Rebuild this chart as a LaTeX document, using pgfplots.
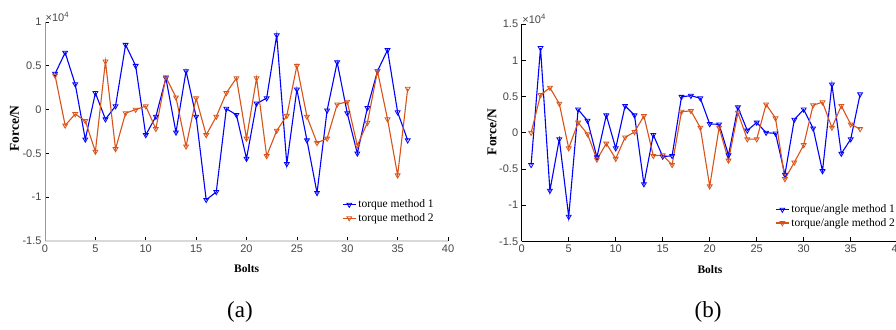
\documentclass[border=0pt]{standalone}
\usepackage{pgfplots}
\pgfplotsset{compat=1.18}
\usepackage{fontspec}
\setmainfont{Liberation Serif}
\setsansfont{Liberation Sans}
\definecolor{mblue}{RGB}{0,0,255}
\definecolor{morange}{RGB}{217,83,25}
\definecolor{ticktext}{RGB}{70,70,70}
\pgfplotsset{
  common/.style={
    scale only axis,
    anchor=south west,
    xmin=0, xmax=40,
    axis x line*=bottom, axis y line*=left,
    tick align=inside,
    major tick length=4pt,
    xtick={0,5,...,40},
    xticklabels={0,5,10,15,20,25,30,35,40},
    scaled y ticks=false,
    tick style={black, line width=0.6pt},
    tick label style={font=\sffamily\fontsize{11}{12}\selectfont, text=ticktext},
    every axis y label/.style={rotate=90, anchor=center, font=\bfseries\fontsize{13.5}{15}\selectfont},
    every axis x label/.style={anchor=center, font=\bfseries\fontsize{11.5}{13}\selectfont},
    xlabel={Bolts}, ylabel={Force/N},
    legend style={draw=none, fill=none, anchor=north west, font=\fontsize{11.5}{14}\selectfont, legend cell align=left, inner sep=0pt, row sep=0pt},
    legend image code/.code={\draw[mark repeat=2, mark phase=2, #1] plot coordinates {(0pt,0pt) (6.5pt,0pt) (13pt,0pt)};},
    clip=false,
  },
  s1/.style={color=mblue, line width=1.1pt, mark=triangle, mark size=2.8pt, mark options={rotate=180, line width=0.8pt}},
  s2/.style={color=morange, line width=1.1pt, mark=triangle, mark size=2.8pt, mark options={rotate=180, line width=0.8pt}},
}
\begin{document}
\begin{tikzpicture}[x=1pt,y=1pt]
\useasboundingbox (0,0) rectangle (896,329);
% ---------------- (a) ----------------
\begin{axis}[common,
  at={(45pt,88pt)}, width=403pt, height=219pt,
  ymin=-15000, ymax=10000,
  ytick={-15000,-10000,-5000,0,5000,10000},
  yticklabels={-1.5,-1,-0.5,0,0.5,1},
  x axis line style={draw=black!15, line width=2pt},
  y axis line style={draw=black!40, line width=0.7pt},
  every axis y label/.append style={at={(axis description cs:-0.0757,0.514)}},
  every axis x label/.append style={at={(axis description cs:0.5005,-0.128)}},
  legend style={at={(axis description cs:0.737,0.198)}},
]
\addplot[s1] coordinates {
(1,4100) (2,6500) (3,2900) (4,-3400) (5,1900) (6,-1100) (7,400) (8,7400) (9,5000) (10,-2900)
(11,-800) (12,3600) (13,-2600) (14,4400) (15,-800) (16,-10300) (17,-9400) (18,100) (19,-600) (20,-5600)
(21,700) (22,1300) (23,8500) (24,-6200) (25,2300) (26,-3500) (27,-9500) (28,-100) (29,5400) (30,-400)
(31,-5000) (32,200) (33,4400) (34,6800) (35,-300) (36,-3500)};
\addlegendentry{torque method 1}
\addplot[s2] coordinates {
(1,3900) (2,-1800) (3,-500) (4,-1300) (5,-4800) (6,5500) (7,-4500) (8,-400) (9,0) (10,400)
(11,-2200) (12,3700) (13,1400) (14,-4200) (15,1300) (16,-2900) (17,-800) (18,1900) (19,3600) (20,-3300)
(21,3600) (22,-5300) (23,-2400) (24,-700) (25,5000) (26,-800) (27,-3800) (28,-3300) (29,600) (30,900)
(31,-4100) (32,-1500) (33,4400) (34,-1100) (35,-7500) (36,2400)};
\addlegendentry{torque method 2}
\node[anchor=south west, inner sep=0.5pt, font=\sffamily\fontsize{11}{12}\selectfont, text=ticktext] at (rel axis cs:0,1) {×10\textsuperscript{4}};
\end{axis}
% ---------------- (b) ----------------
\begin{axis}[common,
  at={(521.7pt,87.7pt)}, width=376pt, height=217.3pt,
  ymin=-15000, ymax=15000,
  ytick={-15000,-10000,-5000,0,5000,10000,15000},
  yticklabels={-1.5,-1,-0.5,0,0.5,1,1.5},
  x axis line style={draw=black, line width=0.8pt},
  y axis line style={draw=black, line width=0.8pt},
  every axis y label/.append style={at={(axis description cs:-0.079,0.503)}},
  every axis x label/.append style={at={(axis description cs:0.5008,-0.132)}},
  legend style={at={(axis description cs:0.674,0.178)}},
]
\addplot[s1] coordinates {
(1,-4450) (2,11700) (3,-8000) (4,-900) (5,-11600) (6,3200) (7,1650) (8,-3400) (9,2400) (10,-2150)
(11,3700) (12,2400) (13,-7100) (14,-300) (15,-3300) (16,-3200) (17,4950) (18,5100) (19,4750) (20,1200)
(21,1150) (22,-3100) (23,3500) (24,300) (25,1400) (26,0) (27,-100) (28,-5800) (29,1800) (30,3200)
(31,600) (32,-5300) (33,6650) (34,-2900) (35,-900) (36,5300)};
\addlegendentry{torque/angle method 1}
\addplot[s2] coordinates {
(1,0) (2,5200) (3,6200) (4,4000) (5,-2150) (6,1400) (7,-200) (8,-3700) (9,-1500) (10,-3600)
(11,-650) (12,100) (13,2300) (14,-3200) (15,-3100) (16,-4450) (17,2900) (18,3000) (19,700) (20,-7400)
(21,700) (22,-3850) (23,2750) (24,-900) (25,-900) (26,3900) (27,2000) (28,-6400) (29,-4100) (30,-1700)
(31,3800) (32,4200) (33,700) (34,3700) (35,1150) (36,500)};
\addlegendentry{torque/angle method 2}
\node[anchor=south west, inner sep=0.5pt, font=\sffamily\fontsize{11}{12}\selectfont, text=ticktext] at (rel axis cs:0,1) {×10\textsuperscript{4}};
\end{axis}
\node[font=\fontsize{23}{26}\selectfont] at (240,17) {(a)};
\node[font=\fontsize{23}{26}\selectfont] at (708,17) {(b)};
\end{tikzpicture}
\end{document}
